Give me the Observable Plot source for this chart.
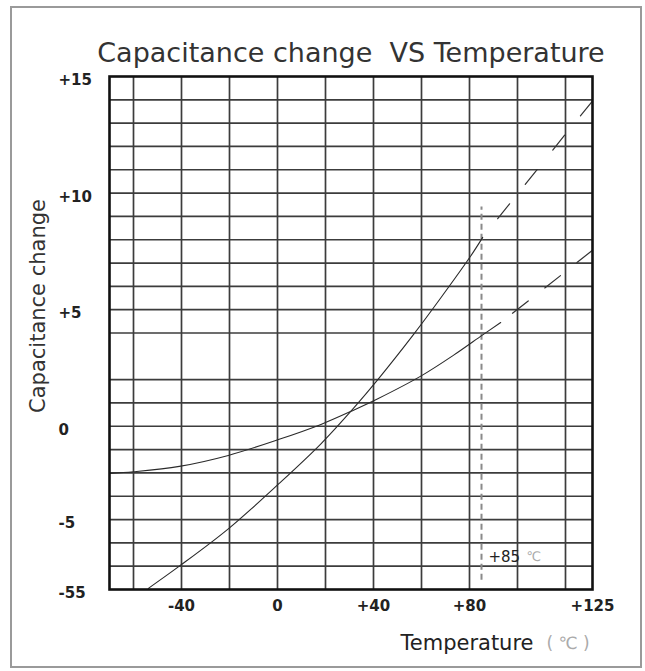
<!DOCTYPE html>
<html><head><meta charset="utf-8">
<script src="https://cdn.jsdelivr.net/npm/d3@7"></script>
<script src="https://cdn.jsdelivr.net/npm/@observablehq/plot@0.6"></script>
<style>
html,body{margin:0;padding:0;background:#fff;}
#wrap{position:relative;width:645px;height:671px;overflow:hidden;background:#fff;}
#border{position:absolute;left:10px;top:6px;width:628px;height:658px;border:2px solid #9a9a9a;}
#chart{position:absolute;left:0;top:0;}
</style></head><body>
<div id="wrap"><div id="border"></div><div id="chart"></div></div>
<script>
// ---- data ----
const titleText = "Capacitance change  VS Temperature";
const yTitleText = "Capacitance change";
const xTitleText = "Temperature";
const xUnitText = "( ℃ )";

// curve with the steep rise (solid part)
const tempA = [-53.8, -40.9, -20.5, 0.7, 18.1, 31.9, 41.8, 56.8, 68.0, 80.5, 85.5];
const capA  = [-6.95, -6.0, -4.4, -2.45, -0.75, 0.80, 2.0, 3.95, 5.5, 7.3, 8.1];
// its dashed extrapolation
const tempAdash = [85.5, 120, 125];
const capAdash  = [8.1, 12.53, 13.95];

// flatter curve (solid part)
const tempB = [-69.6, -60, -40.9, -20.5, 0.7, 18.1, 31.9, 41.8, 59.7, 73.4, 85.5, 93.0];
const capB  = [-2.02, -1.95, -1.72, -1.25, -0.56, 0.08, 0.70, 1.18, 2.15, 3.05, 3.92, 4.45];
// its dashed extrapolation
const tempBdash = [93.0, 120, 125];
const capBdash  = [4.45, 6.63, 7.55];

// +85 °C marker
const markerTemp = [85];
const markerFrom = [-6.6];
const markerTo = [9.4];
const markerLabel = ["+85"];
const markerUnit = ["℃"];
const markerLabelY = [-5.6];

// grid and ticks
const xGrid = [-60, -40, -20, 0, 20, 40, 60, 80, 100, 120];
const yGrid = [-6, -5, -4, -3, -2, -1, 0, 1, 2, 4, 5, 6, 7, 8, 9, 10, 11, 12, 13, 14];
const xTickVals = [-40, 0, 40, 80, 125];
const xTickText = ["-40", "0", "+40", "+80", "+125"];
const yTickVals = [15, 10, 5, 0, -4, -7];
const yTickText = ["+15", "+10", "+5", "0", "-5", "-55"];

const zip = (xs, ys) => xs.map((x, i) => ({x, y: ys[i]}));
const A = zip(tempA, capA), Ad = zip(tempAdash, capAdash);
const B = zip(tempB, capB), Bd = zip(tempBdash, capBdash);
const xTicks = xTickVals.map((v, i) => ({v, t: xTickText[i]}));
const yTicks = yTickVals.map((v, i) => ({v, t: yTickText[i]}));
const marker = markerTemp.map((t, i) => ({t, y1: markerFrom[i], y2: markerTo[i], lab: markerLabel[i], unit: markerUnit[i], ly: markerLabelY[i]}));

const font = "DejaVu Sans";
const plot = Plot.plot({
  width: 645, height: 671,
  marginLeft: 109, marginRight: 53, marginTop: 76, marginBottom: 82,
  style: {fontFamily: font, background: "transparent", overflow: "visible"},
  x: {type: "linear", domain: [-70, 120, 125], range: [109, 565, 592], axis: null},
  y: {type: "linear", domain: [-7, 15], range: [589, 76], axis: null},
  marks: [
    Plot.ruleX(xGrid, {stroke: "#3c3c3c", strokeWidth: 1.7}),
    Plot.ruleY(yGrid, {stroke: "#3c3c3c", strokeWidth: 1.7}),
    Plot.ruleX(marker, {x: "t", y1: "y1", y2: "y2", stroke: "#8a8a8a", strokeWidth: 2, strokeDasharray: "6,4"}),
    Plot.line(A, {x: "x", y: "y", curve: "catmull-rom", stroke: "#2a2a2a", strokeWidth: 1.1}),
    Plot.line(B, {x: "x", y: "y", curve: "catmull-rom", stroke: "#2a2a2a", strokeWidth: 1.1}),
    Plot.line(Ad, {x: "x", y: "y", stroke: "#333", strokeWidth: 1.2, strokeDasharray: "19,25", strokeDashoffset: 20}),
    Plot.line(Bd, {x: "x", y: "y", stroke: "#333", strokeWidth: 1.2, strokeDasharray: "20,21", strokeDashoffset: 26}),
    Plot.frame({stroke: "#111", strokeWidth: 2.6}),
    Plot.text(marker, {x: "t", y: "ly", text: "lab", textAnchor: "start", dx: 7, fontSize: 15, letterSpacing: 1, fill: "#222"}),
    Plot.text(marker, {x: "t", y: "ly", text: "unit", textAnchor: "start", dx: 45, fontSize: 13, fill: "#aaa"}),
    Plot.text(xTicks, {x: "v", text: "t", frameAnchor: "bottom", dy: 21, fontSize: 15, letterSpacing: 1, fontWeight: "bold", fill: "#222"}),
    Plot.text(yTicks, {y: "v", text: "t", frameAnchor: "left", textAnchor: "start", dx: -51, dy: 4, fontSize: 15, letterSpacing: 2, fontWeight: "bold", fill: "#222"}),
    Plot.text([titleText], {frameAnchor: "top", lineAnchor: "middle", dy: -23, fontSize: 27, fill: "#333"}),
    Plot.text([yTitleText], {frameAnchor: "left", textAnchor: "middle", lineAnchor: "middle", rotate: -90, dx: -71, dy: -27, fontSize: 21, letterSpacing: 2, fill: "#333"}),
    Plot.text([xTitleText], {frameAnchor: "bottom-left", textAnchor: "start", lineAnchor: "middle", dx: 291, dy: 54, fontSize: 21, letterSpacing: 2, fill: "#222"}),
    Plot.text([xUnitText], {frameAnchor: "bottom-left", textAnchor: "start", lineAnchor: "middle", dx: 437, dy: 54, fontSize: 17, letterSpacing: 4, fill: "#aaa"})
  ]
});
document.getElementById("chart").appendChild(plot);
</script>
</body></html>
